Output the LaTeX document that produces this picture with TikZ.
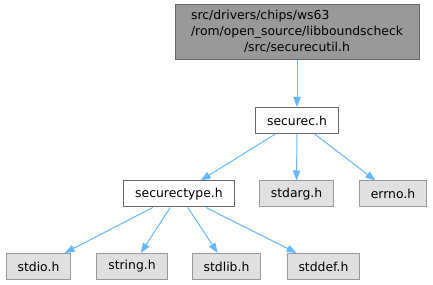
\documentclass[tikz,border=0pt]{standalone}
\usepackage{fontspec}
\setmainfont{DejaVu Sans}
\usetikzlibrary{arrows.meta}

\definecolor{edgeblue}{HTML}{63B8FF}
\definecolor{maingray}{HTML}{999999}
\definecolor{sysgray}{HTML}{E0E0E0}
\definecolor{darkline}{HTML}{666666}

\begin{document}
\begin{tikzpicture}[x=0.75pt,y=-0.75pt,
  every node/.style={font=\fontsize{9.3}{12}\selectfont, inner xsep=8.6pt, inner ysep=0pt, minimum height=19.5pt, line width=0.75pt},
  mainfile/.style={draw=darkline, fill=maingray, minimum height=41.25pt, minimum width=183pt},
  file/.style={draw=darkline, fill=white},
  sysfile/.style={draw=maingray, fill=sysgray},
  dep/.style={draw=edgeblue, line width=0.75pt, -{Triangle[length=7.5pt,width=5.5pt]}}]
\useasboundingbox (0,0) rectangle (433,285);
% top row
\node[mainfile] (securecutil) at (297,32.5) {\begin{tabular}{@{}c@{}}\multicolumn{1}{@{}l@{}}{src/drivers/chips/ws63}\\/rom/open\_source/libboundscheck\\/src/securecutil.h\end{tabular}};
\node[file] (securec) at (297,120.5) {securec.h};
% second row
\node[file] (securectype) at (179,194) {securectype.h};
\node[sysfile] (stdarg) at (296.5,194) {stdarg.h};
\node[sysfile] (errno) at (393,194) {errno.h};
% third row
\node[sysfile] (stdio) at (38.5,266.5) {stdio.h};
\node[sysfile] (string) at (132,266.5) {string.h};
\node[sysfile] (stdlib) at (226.5,266.5) {stdlib.h};
\node[sysfile] (stddef) at (323.5,266.5) {stddef.h};
% includes
\draw[dep] (securecutil) -- (securec);
\draw[dep] (securec) -- (securectype);
\draw[dep] (securec) -- (stdarg);
\draw[dep] (securec) -- (errno);
\draw[dep] (securectype) -- (stdio);
\draw[dep] (securectype) -- (string);
\draw[dep] (securectype) -- (stdlib);
\draw[dep] (securectype) -- (stddef);
\end{tikzpicture}
\end{document}
